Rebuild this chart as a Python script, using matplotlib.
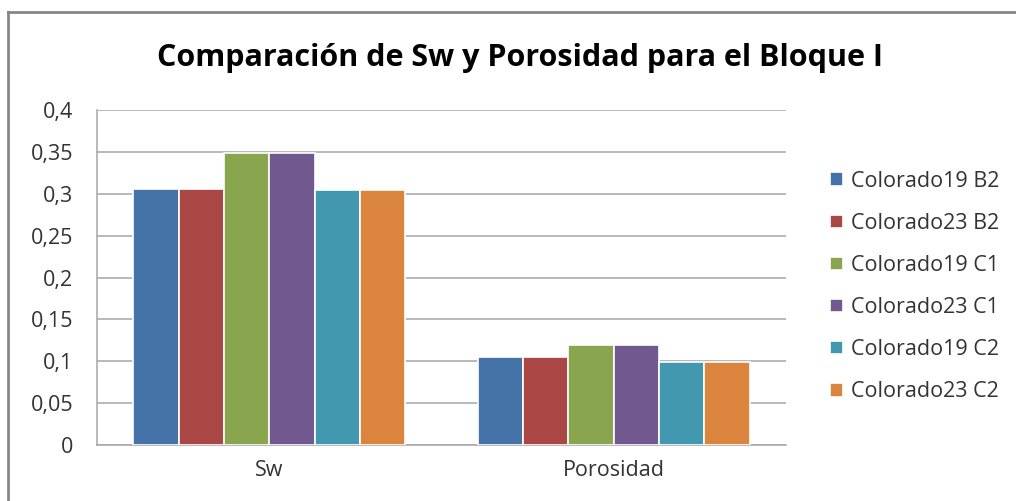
import matplotlib
matplotlib.use("Agg")
import matplotlib.pyplot as plt
import numpy as np

categories = ["Sw", "Porosidad"]
series_names = ["Colorado19 B2", "Colorado23 B2", "Colorado19 C1",
                "Colorado23 C1", "Colorado19 C2", "Colorado23 C2"]
colorado19_b2 = [0.306, 0.105]
colorado23_b2 = [0.306, 0.105]
colorado19_c1 = [0.349, 0.119]
colorado23_c1 = [0.349, 0.119]
colorado19_c2 = [0.304, 0.099]
colorado23_c2 = [0.304, 0.099]
series_values = [colorado19_b2, colorado23_b2, colorado19_c1,
                 colorado23_c1, colorado19_c2, colorado23_c2]
colors = ["#4572A7", "#AA4643", "#89A54E", "#71588F", "#4198AF", "#DB843D"]
yticks = [0, 0.05, 0.1, 0.15, 0.2, 0.25, 0.3, 0.35, 0.4]
ytick_labels = ["0", "0,05", "0,1", "0,15", "0,2", "0,25", "0,3", "0,35", "0,4"]

plt.rcParams['font.family'] = ['Open Sans', 'DejaVu Sans']

fig = plt.figure(figsize=(10.16, 5.01), dpi=100)
ax = fig.add_axes([0.0955, 0.1118, 0.678, 0.6686])

x = np.arange(len(categories))
group_w = 0.79
bw = group_w / len(series_names)
for i, (name, vals, c) in enumerate(zip(series_names, series_values, colors)):
    pos = x - group_w / 2 + bw * (i + 0.5)
    ax.bar(pos, vals, width=bw, color=c, edgecolor="white", linewidth=1.2,
           label=name, zorder=3)

ax.set_xlim(-0.5, 1.5)
ax.set_ylim(0, 0.4)
ax.set_yticks(yticks)
ax.set_yticklabels(ytick_labels, fontsize=15.5, color="#333333")
ax.set_xticks(x)
ax.set_xticklabels(categories, fontsize=15.5, color="#333333")
ax.tick_params(axis="y", length=0, pad=17)
ax.tick_params(axis="x", length=0, pad=11)
ax.yaxis.grid(True, color="#A6A6A6", linewidth=1.1, zorder=0)
for s in ["top", "right"]:
    ax.spines[s].set_visible(False)
ax.spines["left"].set_color("#A6A6A6")
ax.spines["bottom"].set_color("#A6A6A6")
ax.spines["left"].set_linewidth(1.1)
ax.spines["bottom"].set_linewidth(1.1)

fig.text(0.512, 0.885, "Comparación de Sw y Porosidad para el Bloque I",
         ha="center", va="center", fontsize=22, fontweight="bold", color="black")

leg = fig.legend(loc="center left", bbox_to_anchor=(0.798, 0.428), frameon=False,
                 fontsize=15.5, handlelength=0.6, handleheight=0.6,
                 handletextpad=0.35, labelspacing=0.98)
for t in leg.get_texts():
    t.set_color("#333333")

# outer chart border (left and top visible in the crop)
fig.add_artist(plt.Line2D([8 / 1016, 8 / 1016], [0, 1 - 12 / 501],
                          transform=fig.transFigure, color="#868686", linewidth=2))
fig.add_artist(plt.Line2D([8 / 1016, 1], [1 - 12 / 501, 1 - 12 / 501],
                          transform=fig.transFigure, color="#868686", linewidth=2))

fig.savefig("out.png", dpi=100, facecolor="white")
